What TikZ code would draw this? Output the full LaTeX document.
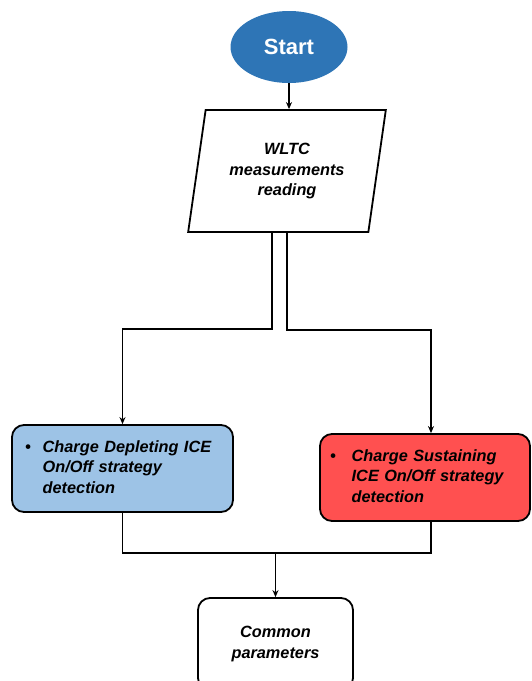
\documentclass[tikz,border=0pt]{standalone}
\usepackage{fontspec}
\setmainfont{Liberation Sans}
\usetikzlibrary{shapes.geometric, arrows.meta, positioning, calc}
\definecolor{startblue}{RGB}{46, 117, 182}
\definecolor{depleteblue}{RGB}{157, 195, 230}
\definecolor{sustainred}{RGB}{255, 80, 80}
\tikzset{
  >=Stealth,
  flowarrow/.style={-{Stealth[length=7pt, width=6pt]}, line width=1.6pt, black},
  flowline/.style={line width=1.6pt, black},
  boxtext/.style={font=\bfseries\itshape\fontsize{16.3}{20.5}\selectfont},
  procbox/.style={draw, line width=1.8pt, rounded corners=12pt, boxtext},
  listbox/.style={procbox, minimum height=87pt, align=left}
}

\begin{document}
\begin{tikzpicture}[x=1pt, y=-1pt]
    \useasboundingbox (0,0) rectangle (531,681);
    \clip (0,0) rectangle (531,681);

    \node (start) [ellipse, fill=startblue, minimum width=117pt, minimum height=72pt, inner sep=0pt, text=white, font=\bfseries\fontsize{22}{24}\selectfont] at (289,47) {Start};
    \node (read) [trapezium, trapezium left angle=77.5, trapezium right angle=102.5, trapezium stretches=true, draw, line width=1.8pt, minimum width=198pt, minimum height=122pt, inner sep=0pt, align=center, boxtext] at (287,171) {WLTC\\measurements\\reading};
    \node (deplete) [listbox, fill=depleteblue, minimum width=221pt, inner xsep=13pt, text width=195pt] at (122.5,468.5) {\begin{tabular}{@{}l@{\hspace{12pt}}l@{}}\textbullet & Charge Depleting ICE\\ & On/Off strategy\\ & detection\end{tabular}};
    \node (sustain) [listbox, fill=sustainred, minimum width=210pt, inner xsep=10pt, text width=190pt] at (425,477.5) {\begin{tabular}{@{}l@{\hspace{16pt}}l@{}}\textbullet & Charge Sustaining\\ & ICE On/Off strategy\\ & detection\end{tabular}};
    \node (common) [procbox, minimum width=155pt, minimum height=92pt, align=center] at (275.5,644) {Common\\parameters};
    \path (common.north) ++(0,-44) coordinate (merge);

    \draw[flowarrow] (start.south) -- (start.south |- read.north);
    \draw[flowarrow] ([xshift=-15pt]read.south) -- ++(0,96) -| (deplete.north);
    \draw[flowarrow] (read.south) -- ++(0,97) -| ([xshift=6pt]sustain.north);
    \draw[flowline] (deplete.south) |- (merge) -| ([xshift=6pt]sustain.south);
    \draw[flowarrow] (merge) -- (common.north);
\end{tikzpicture}
\end{document}
